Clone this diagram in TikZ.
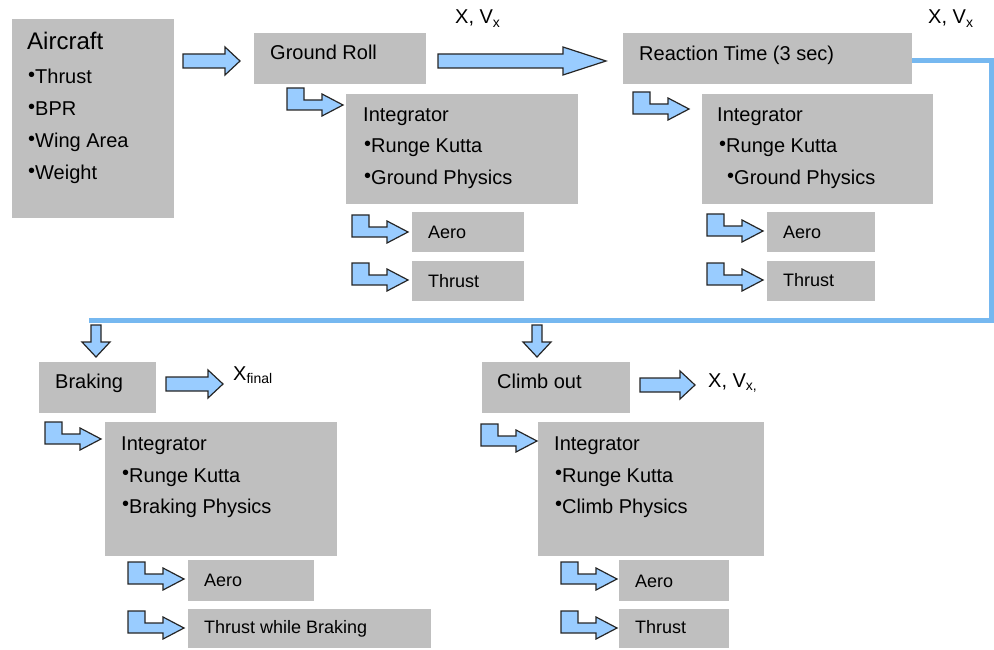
\documentclass[tikz,border=0pt]{standalone}
\usepackage{fontspec}
\setmainfont{Liberation Sans}
\definecolor{boxgray}{RGB}{191,191,191}
\definecolor{arrowblue}{RGB}{153,204,255}
\definecolor{lineblue}{RGB}{118,184,240}

\newcommand{\dotb}{\raisebox{0.12em}{\textbullet}}
% block arrows (x, y, length, head length)
\newcommand{\rightblock}[4]{%
  \draw[blockarrow] (#1,{#2-7}) -- ({#1+#3-#4},{#2-7}) -- ({#1+#3-#4},{#2-14}) -- ({#1+#3},#2)
    -- ({#1+#3-#4},{#2+14}) -- ({#1+#3-#4},{#2+7}) -- (#1,{#2+7}) -- cycle;}
\newcommand{\downblock}[2]{%
  \draw[blockarrow] ({#1-5},#2) -- ({#1+5},#2) -- ({#1+5},{#2+17}) -- ({#1+14},{#2+17})
    -- (#1,{#2+32}) -- ({#1-14},{#2+17}) -- ({#1-5},{#2+17}) -- cycle;}
\newcommand{\elbowblock}[2]{%
  \draw[blockarrow] (#1,#2) -- ++(17,0) -- ++(0,12) -- ++(18,0) -- ++(0,-6) -- ++(21,11)
    -- ++(-21,11) -- ++(0,-6) -- ++(-35,0) -- cycle;}

\begin{document}
\begin{tikzpicture}[x=1pt, y=-1pt,
  box/.style={fill=boxgray, anchor=north west, inner sep=0pt},
  txt/.style={anchor=base west, inner sep=0pt, font=\fontsize{20}{24}\selectfont},
  smalltxt/.style={txt, font=\fontsize{18}{22}\selectfont},
  bigtxt/.style={txt, font=\fontsize{24}{28}\selectfont},
  blockarrow/.style={draw=black!85, fill=arrowblue, line width=1.2pt, line join=miter},
  feedline/.style={draw=lineblue, line width=5pt}]
  \useasboundingbox (0,0) rectangle (994,650);

  % Top row
  \node[box, minimum width=162pt, minimum height=199pt] (ac) at (12,19) {};
  \node[box, minimum width=172pt, minimum height=51pt] (gr) at (254,33) {};
  \node[box, minimum width=232pt, minimum height=110pt] (int1) at (346,94) {};
  \node[box, minimum width=112pt, minimum height=40pt] (aero1) at (412,212) {};
  \node[box, minimum width=112pt, minimum height=40pt] (thr1) at (412,261) {};
  \node[box, minimum width=289pt, minimum height=51pt] (rt) at (623,33) {};
  \node[box, minimum width=231pt, minimum height=110pt] (int2) at (702,94) {};
  \node[box, minimum width=108pt, minimum height=40pt] (aero2) at (767,212) {};
  \node[box, minimum width=108pt, minimum height=40pt] (thr2) at (767,261) {};

  % Bottom row
  \node[box, minimum width=117pt, minimum height=51pt] (br) at (39,362) {};
  \node[box, minimum width=232pt, minimum height=134pt] (int3) at (105,422) {};
  \node[box, minimum width=126pt, minimum height=41pt] (aero3) at (188,560) {};
  \node[box, minimum width=243pt, minimum height=39pt] (thr3) at (188,609) {};
  \node[box, minimum width=148pt, minimum height=51pt] (co) at (482,362) {};
  \node[box, minimum width=226pt, minimum height=134pt] (int4) at (538,422) {};
  \node[box, minimum width=110pt, minimum height=41pt] (aero4) at (619,560) {};
  \node[box, minimum width=110pt, minimum height=39pt] (thr4) at (619,609) {};

  % Texts
  \node[bigtxt] (ac-t) at (27,50) {Aircraft};
  \node[txt] (ac-a) at (28,84) {\dotb Thrust};
  \node[txt] (ac-b) at (28,116) {\dotb BPR};
  \node[txt] (ac-c) at (28,148) {\dotb Wing Area};
  \node[txt] (ac-d) at (28,180) {\dotb Weight};
  \node[txt] (gr-t) at (270,60) {Ground Roll};
  \node[txt] (out1) at (455,24) {X, V\textsubscript{x}};
  \node[txt] (int1-t) at (363,122) {Integrator};
  \node[txt] (int1-a) at (364,153) {\dotb Runge Kutta};
  \node[txt] (int1-b) at (364,185) {\dotb Ground Physics};
  \node[smalltxt] (aero1-t) at (428,238) {Aero};
  \node[smalltxt] (thr1-t) at (428,287) {Thrust};
  \node[txt] (rt-t) at (639,61) {Reaction Time (3 sec)};
  \node[txt] (out2) at (928,24) {X, V\textsubscript{x}};
  \node[txt] (int2-t) at (717,122) {Integrator};
  \node[txt] (int2-a) at (719,153) {\dotb Runge Kutta};
  \node[txt] (int2-b) at (727,185) {\dotb Ground Physics};
  \node[smalltxt] (aero2-t) at (783,238) {Aero};
  \node[smalltxt] (thr2-t) at (783,286) {Thrust};
  \node[txt] (br-t) at (55,388) {Braking};
  \node[txt] (out3) at (233,380) {X\textsubscript{final}};
  \node[txt] (int3-t) at (121,450) {Integrator};
  \node[txt] (int3-a) at (122,482) {\dotb Runge Kutta};
  \node[txt] (int3-b) at (122,513) {\dotb Braking Physics};
  \node[smalltxt] (aero3-t) at (204,586) {Aero};
  \node[smalltxt] (thr3-t) at (204,633) {Thrust while Braking};
  \node[txt] (co-t) at (497,388) {Climb out};
  \node[txt] (out4) at (708,387) {X, V\textsubscript{x,}};
  \node[txt] (int4-t) at (554,450) {Integrator};
  \node[txt] (int4-a) at (555,482) {\dotb Runge Kutta};
  \node[txt] (int4-b) at (555,513) {\dotb Climb Physics};
  \node[smalltxt] (aero4-t) at (635,587) {Aero};
  \node[smalltxt] (thr4-t) at (635,633) {Thrust};

  % Feedback line
  \coordinate (fbR) at (991,320);
  \coordinate (fbL) at (89,320);
  \draw[feedline] ([yshift=-1.5pt]rt.east) -| (fbR) -- (fbL);

  % Block arrows
  \rightblock{183}{61}{57}{15}
  \rightblock{438}{61}{168}{43}
  \rightblock{166}{384}{57}{15}
  \rightblock{640}{385}{55}{15}
  \downblock{96}{325}
  \downblock{537}{325}
  \elbowblock{287}{88}
  \elbowblock{352}{215}
  \elbowblock{352}{263}
  \elbowblock{633}{92}
  \elbowblock{707}{214}
  \elbowblock{707}{263}
  \elbowblock{45}{422}
  \elbowblock{128}{562}
  \elbowblock{128}{611}
  \elbowblock{481}{424}
  \elbowblock{561}{562}
  \elbowblock{561}{611}
\end{tikzpicture}
\end{document}
